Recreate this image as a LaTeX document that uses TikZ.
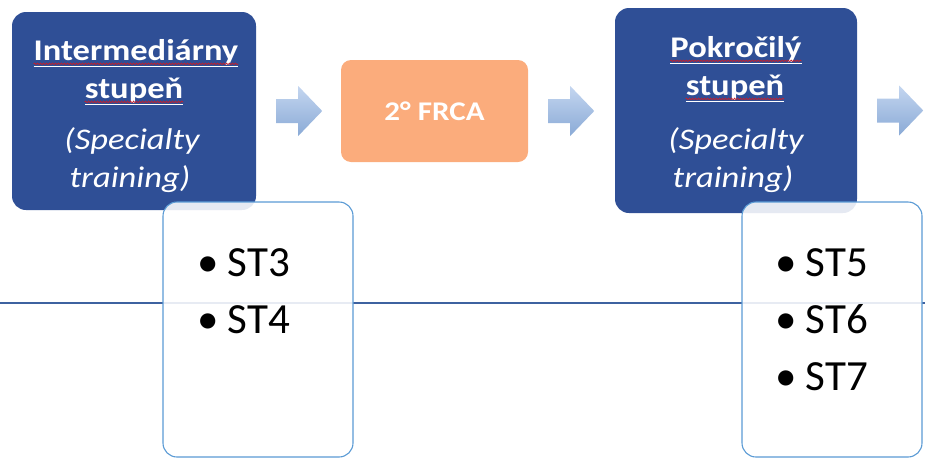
\documentclass[tikz,border=0pt]{standalone}
\usepackage{fontspec}
\setmainfont{Carlito}
\newfontfamily\boxfont{Carlito}[FakeStretch=1.15]
\usetikzlibrary{positioning, decorations.pathmorphing}

\definecolor{stupenblue}{RGB}{47,79,150}
\definecolor{frcaorange}{RGB}{251,172,124}
\definecolor{arrowtop}{RGB}{196,214,240}
\definecolor{arrowbot}{RGB}{138,170,214}
\definecolor{listedge}{RGB}{91,155,213}
\definecolor{timeline}{RGB}{62,98,160}
\definecolor{squigred}{RGB}{200,30,40}

\tikzset{
  stupen/.style={fill=stupenblue, rounded corners=14pt, inner sep=0pt},
  titleline/.style={text=white, font=\boxfont\fontsize{30}{32}\selectfont\bfseries, inner sep=0pt},
  subline/.style={text=white, font=\boxfont\fontsize{30}{32}\selectfont\itshape, inner sep=0pt},
  squiggle/.style={draw=squigred, line width=0.7pt, decorate, decoration={snake, segment length=3pt, amplitude=0.8pt}},
  exam/.style={fill=frcaorange, rounded corners=10pt, text=white, font=\boxfont\fontsize{27}{30}\selectfont\bfseries},
  blockarrow/.style={top color=arrowtop, bottom color=arrowbot, draw=none},
  listbox/.style={draw=listedge, line width=1.1pt, fill=white, fill opacity=0.88, rounded corners=14pt, inner sep=0pt},
  listitem/.style={font=\fontsize{43}{50}\selectfont, inner sep=0pt, anchor=base west}
}

\begin{document}
\begin{tikzpicture}[x=1pt, y=-1pt]
\useasboundingbox (0,0) rectangle (925,458);

% casova os
\draw[timeline, line width=1.1pt] (0,303) -- (925,303);

% stupne
\node[stupen, minimum width=244pt, minimum height=198pt] (inter) at (134,111) {};
\node[stupen, minimum width=242pt, minimum height=205pt] (pokro) at (736,110.5) {};
\node[exam, minimum width=187pt, minimum height=102pt] (frca) at (434.5,111) {2° FRCA};

\node[titleline, anchor=base] (inter1) at (136,60) {\underline{Intermediárny}};
\node[titleline, anchor=base] (inter2) at (134,98) {\underline{stupeň}};
\node[subline, anchor=base] (inter3) at (132,149) {(Specialty};
\node[subline, anchor=base] (inter4) at (130,187) {training)};

\node[titleline, anchor=base] (pokro1) at (736,57) {\underline{Pokročilý}};
\node[titleline, anchor=base] (pokro2) at (735,95) {\underline{stupeň}};
\node[subline, anchor=base] (pokro3) at (736,149) {(Specialty};
\node[subline, anchor=base] (pokro4) at (733,187) {training)};

\foreach \w in {inter1, inter2, pokro1, pokro2}
  \draw[squiggle] ([yshift=3pt]\w.south west) -- ([yshift=3pt]\w.south east);

% sipky
\foreach \src in {inter, frca, pokro}
  \path[blockarrow, shift={(\src.east)}]
    (20,-12) -- (42,-12) -- (42,-25) -- (66,0) -- (42,25) -- (42,12) -- (20,12) -- cycle;

% zoznamy
\node[listbox, minimum width=190pt, minimum height=255pt] (list1) at (258,329.5) {};
\node[listbox, minimum width=180pt, minimum height=255pt] (list2) at (832,329.5) {};

\foreach \t [count=\i from 0] in {ST3, ST4}
  \node[listitem] (a\t) at (197,276+57*\i) {\textbullet\hspace{9pt}\t};
\foreach \t [count=\i from 0] in {ST5, ST6, ST7}
  \node[listitem] (b\t) at (775,276+57*\i) {\textbullet\hspace{9pt}\t};

\end{tikzpicture}
\end{document}
